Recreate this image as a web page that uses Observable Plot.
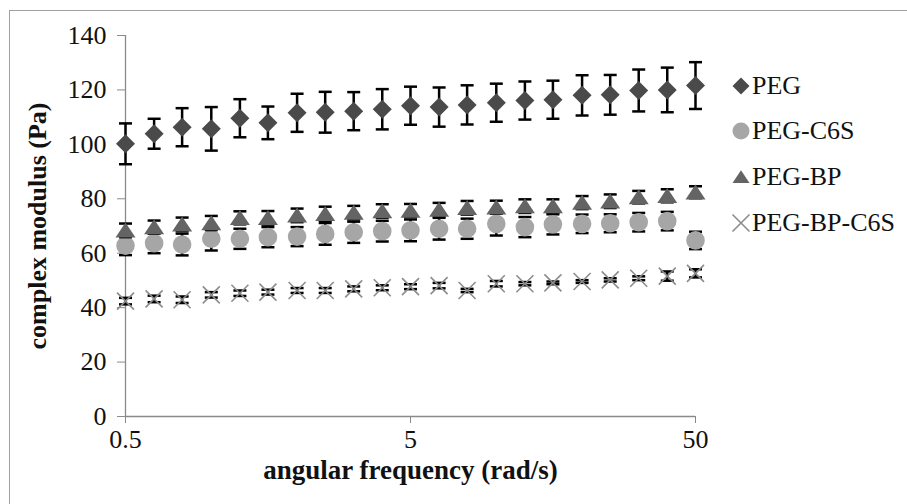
<!DOCTYPE html>
<html><head><meta charset="utf-8">
<script src="https://cdn.jsdelivr.net/npm/d3@7"></script>
<script src="https://cdn.jsdelivr.net/npm/@observablehq/plot@0.6"></script>
<style>
body{margin:0;background:#fff;}
#wrap{position:relative;width:907px;height:504px;font-family:"Liberation Serif","Times New Roman",serif;}
#frame{position:absolute;left:9px;top:10px;right:0;bottom:0;border-top:1px solid #a0a0a0;border-left:1px solid #a0a0a0;pointer-events:none;}
#legend{position:absolute;left:730px;top:63px;}
.row{display:flex;align-items:center;height:45.6px;font-size:26px;color:#111;white-space:nowrap;}
.row svg{display:block;}
</style></head><body><div id="wrap"><div id="frame"></div><div id="legend"></div></div>
<script>
// ---- data ----
const freq = [0.5, 0.63, 0.79, 1.0, 1.26, 1.58, 2.0, 2.51, 3.16, 3.98, 5.0, 6.3, 7.9, 10, 12.6, 15.8, 20, 25.1, 31.6, 39.8, 50];
const seriesNames = ["PEG", "PEG-C6S", "PEG-BP", "PEG-BP-C6S"];
const pegValues = [100.2, 103.9, 106.3, 105.7, 109.6, 107.9, 111.6, 111.8, 112.2, 112.9, 114.2, 113.7, 114.5, 115.3, 116.1, 116.4, 118.0, 118.2, 119.8, 120.0, 121.6];
const pegErrors = [7.5, 5.5, 7.0, 8.0, 7.0, 6.0, 7.0, 7.5, 7.0, 7.4, 7.0, 7.2, 7.2, 7.0, 7.0, 7.0, 7.4, 7.3, 7.7, 8.2, 8.6];
const c6sValues = [62.8, 63.7, 63.2, 65.3, 65.3, 65.9, 66.1, 67.1, 67.7, 68.1, 68.4, 69.0, 69.0, 70.8, 69.6, 70.6, 70.8, 71.0, 71.4, 71.8, 64.7];
const c6sErrors = [3.5, 3.7, 4.0, 4.3, 3.7, 3.7, 3.5, 4.0, 3.9, 3.8, 4.0, 4.0, 3.7, 4.3, 3.7, 3.7, 3.4, 3.3, 3.4, 3.4, 3.2];
const bpValues = [68.4, 69.6, 70.6, 71.1, 73.0, 73.0, 73.9, 74.5, 74.9, 75.5, 75.7, 76.0, 76.7, 76.9, 77.3, 77.3, 78.6, 79.1, 80.6, 81.1, 82.4];
const bpErrors = [2.5, 2.4, 2.5, 2.6, 2.4, 2.5, 2.5, 2.6, 2.5, 2.5, 2.4, 2.5, 2.5, 2.4, 2.5, 2.5, 2.4, 2.5, 2.3, 2.4, 2.2];
const bpc6sValues = [42.4, 43.2, 42.9, 44.7, 45.3, 45.7, 46.3, 46.3, 46.9, 47.3, 47.7, 48.1, 46.3, 48.8, 48.8, 49.1, 49.6, 50.2, 50.8, 51.6, 52.6];
const bpc6sErrors = [1.2, 1.2, 1.2, 1.0, 1.0, 0.9, 0.9, 0.9, 0.9, 0.9, 0.9, 1.0, 0.6, 1.0, 0.6, 0.5, 0.5, 0.6, 0.7, 1.7, 1.5];
const xTicks = [0.5, 5, 50];
const yTicks = [0, 20, 40, 60, 80, 100, 120, 140];

// ---- symbols ----
const rad = s => Math.sqrt(s / Math.PI);
const diamondSym = {draw(c, s){const r = rad(s); c.moveTo(0,-r); c.lineTo(r,0); c.lineTo(0,r); c.lineTo(-r,0); c.closePath();}};
const circleSym = {draw(c, s){const r = rad(s); c.moveTo(r,0); c.arc(0,0,r,0,2*Math.PI); c.closePath();}};
const triSym = {draw(c, s){const r = rad(s); c.moveTo(0,-0.78*r); c.lineTo(r,0.72*r); c.lineTo(-r,0.72*r); c.closePath();}};
const timesSym = {draw(c, s){const r = rad(s); c.moveTo(-r,-r); c.lineTo(r,r); c.moveTo(r,-r); c.lineTo(-r,r);}};
const capSym = {draw(c, s){const r = rad(s); c.moveTo(-r,0); c.lineTo(r,0);}};

const styles = [
  {name: seriesNames[0], values: pegValues, errors: pegErrors, symbol: diamondSym, r: 9.5, fill: "#4a4a4a", stroke: "none", sw: 0},
  {name: seriesNames[1], values: c6sValues, errors: c6sErrors, symbol: circleSym, r: 9.3, fill: "#a6a6a6", stroke: "none", sw: 0},
  {name: seriesNames[2], values: bpValues, errors: bpErrors, symbol: triSym, r: 10, fill: "#646464", stroke: "none", sw: 0},
  {name: seriesNames[3], values: bpc6sValues, errors: bpc6sErrors, symbol: timesSym, r: 8.5, fill: "none", stroke: "#8c8c8c", sw: 1.6}
];

const marks = [];
for (const st of styles) {
  const rows = freq.map((f, i) => ({freq: f, value: st.values[i], lo: st.values[i] - st.errors[i], hi: st.values[i] + st.errors[i]}));
  marks.push(Plot.ruleX(rows, {x: "freq", y1: "lo", y2: "hi", stroke: "#000", strokeWidth: 2.5}));
  marks.push(Plot.dot(rows, {x: "freq", y: "lo", symbol: capSym, r: 6.5, stroke: "#000", strokeWidth: 2.5, fill: "none"}));
  marks.push(Plot.dot(rows, {x: "freq", y: "hi", symbol: capSym, r: 6.5, stroke: "#000", strokeWidth: 2.5, fill: "none"}));
  marks.push(Plot.dot(rows, {x: "freq", y: "value", symbol: st.symbol, r: st.r, fill: st.fill, stroke: st.stroke, strokeWidth: st.sw}));
}

const chart = Plot.plot({
  width: 907, height: 504,
  marginLeft: 125, marginRight: 212, marginTop: 35, marginBottom: 88,
  style: {fontFamily: "'Liberation Serif', 'Times New Roman', serif", background: "transparent", color: "#111"},
  x: {type: "log", domain: [0.5, 50]},
  y: {domain: [0, 140]},
  marks: [
    Plot.ruleX([0.5], {stroke: "#8a8a8a", strokeWidth: 1.3}),
    Plot.ruleY([0], {stroke: "#8a8a8a", strokeWidth: 1.3}),
    Plot.axisY({ticks: yTicks, tickSize: 8, tickPadding: 11, fontSize: 26, stroke: "#8a8a8a", fill: "#111", label: null}),
    Plot.axisX({ticks: xTicks, tickFormat: d => String(d), tickSize: 7, tickPadding: 6, fontSize: 26, stroke: "#8a8a8a", fill: "#111", label: null}),
    Plot.text(["complex modulus (Pa)"], {frameAnchor: "left", dx: -88, rotate: -90, textAnchor: "middle", fontSize: 26, fontWeight: "bold", fill: "#111"}),
    Plot.text(["angular frequency (rad/s)"], {frameAnchor: "bottom", dy: 62, textAnchor: "middle", fontSize: 27, fontWeight: "bold", fill: "#111"}),
    ...marks
  ]
});
document.getElementById("wrap").prepend(chart);
chart.style.position = "absolute"; chart.style.left = "0"; chart.style.top = "0";

// ---- legend ----
const leg = document.getElementById("legend");
for (const st of styles) {
  const row = document.createElement("div"); row.className = "row";
  const p = d3.path(); st.symbol.draw(p, Math.PI * 8.5 * 8.5);
  const svg = d3.create("svg").attr("width", 22).attr("height", 22).attr("viewBox", "-11 -11 22 22");
  svg.append("path").attr("d", p.toString()).attr("fill", st.fill).attr("stroke", st.stroke).attr("stroke-width", st.sw);
  row.appendChild(svg.node());
  const span = document.createElement("span"); span.textContent = st.name; row.appendChild(span);
  leg.appendChild(row);
}
</script></body></html>
